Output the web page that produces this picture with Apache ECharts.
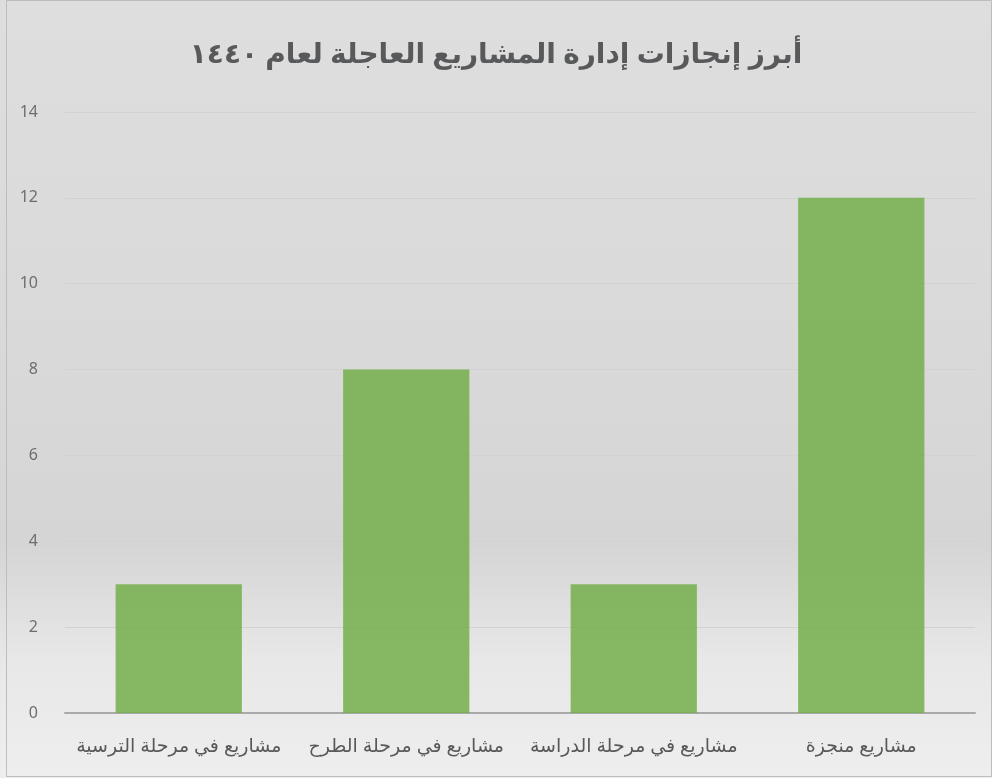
<!DOCTYPE html>
<html>
<head>
<meta charset="utf-8">
<script src="https://cdn.jsdelivr.net/npm/echarts@6/dist/echarts.min.js"></script>
<style>
  html, body { margin: 0; padding: 0; }
  #chart { width: 992px; height: 778px; }
</style>
</head>
<body>
<div id="chart"></div>
<script>
// 标题、分类、数值
var titleText = 'أبرز إنجازات إدارة المشاريع العاجلة لعام ١٤٤٠';
var categories = ['مشاريع في مرحلة الترسية', 'مشاريع في مرحلة الطرح', 'مشاريع في مرحلة الدراسة', 'مشاريع منجزة'];
var projectCounts = [3, 8, 3, 12];
var yTicks = [0, 2, 4, 6, 8, 10, 12, 14];

var chart = echarts.init(document.getElementById('chart'), null, { renderer: 'canvas' });

var option = {
    backgroundColor: {
        type: 'linear', x: 0, y: 0, x2: 0, y2: 1,
        colorStops: [
            { offset: 0, color: '#dedede' },
            { offset: 0.45, color: '#d9d9d9' },
            { offset: 0.7, color: '#d5d5d5' },
            { offset: 0.85, color: '#e8e8e8' },
            { offset: 1, color: '#eeeeee' }
        ]
    },
    title: {
        text: titleText,
        left: 'center',
        top: 36,
        textStyle: {
            fontFamily: 'Noto Sans, DejaVu Sans',
            fontSize: 28,
            fontWeight: 'bold',
            color: '#58595b'
        }
    },
    graphic: [{
        type: 'rect',
        shape: { x: 6.5, y: 0.5, width: 985, height: 776 },
        style: { fill: 'none', stroke: '#bdbdbd', lineWidth: 1 },
        silent: true
    }],
    grid: {
        left: 65,
        right: 17,
        top: 112,
        bottom: 65,
        containLabel: false
    },
    xAxis: {
        type: 'category',
        data: categories,
        axisLine: { lineStyle: { color: '#a9a9a9', width: 2 } },
        axisTick: { show: false },
        axisLabel: {
            interval: 0,
            color: '#58595b',
            fontSize: 19,
            fontFamily: 'Noto Sans, DejaVu Sans',
            margin: 24
        }
    },
    yAxis: {
        type: 'value',
        min: yTicks[0],
        max: yTicks[yTicks.length - 1],
        interval: 2,
        axisLine: { show: false },
        axisTick: { show: false },
        axisLabel: {
            color: '#6d6e71',
            fontSize: 16,
            fontFamily: 'Noto Sans, DejaVu Sans',
            margin: 27
        },
        splitLine: { lineStyle: { color: '#d2d2d2', width: 1 } }
    },
    series: [{
        type: 'bar',
        data: projectCounts,
        barWidth: '55.5%',
        itemStyle: { color: 'rgba(112,173,71,0.82)' },
        silent: true
    }]
};

chart.setOption(option);
</script>
</body>
</html>
